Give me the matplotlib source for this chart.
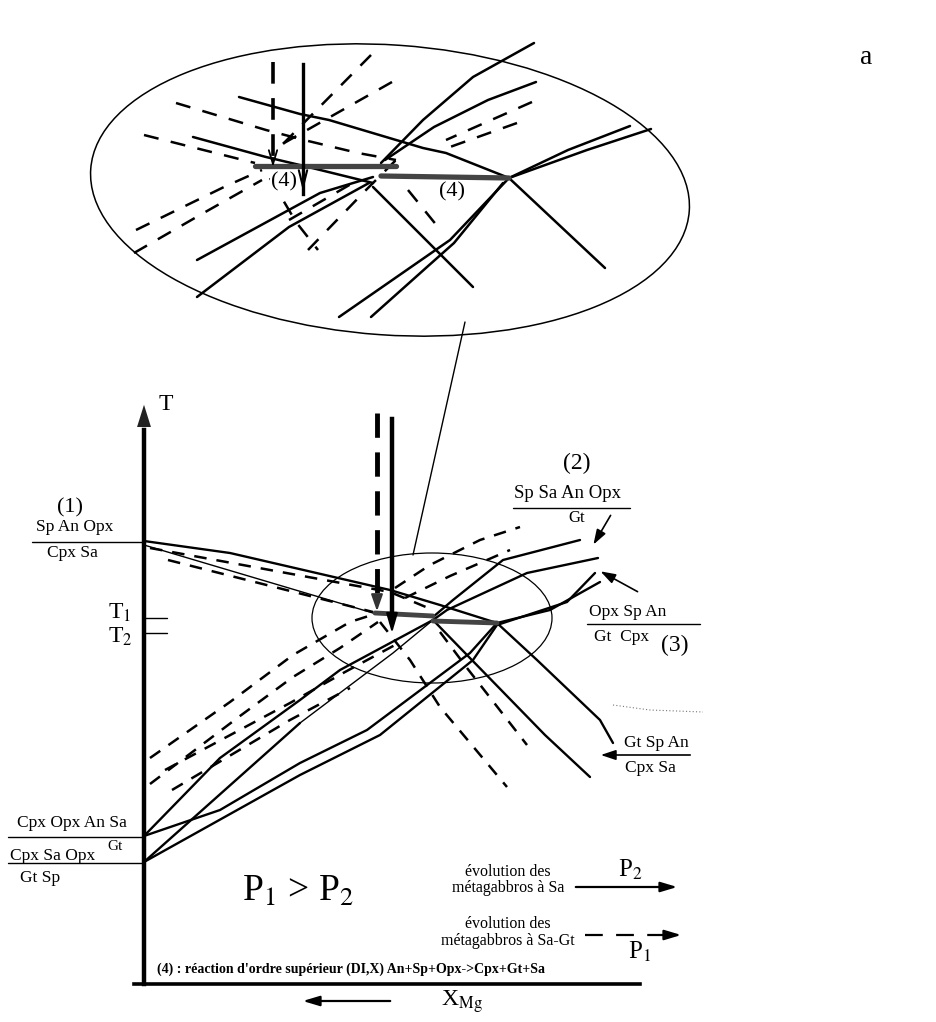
import matplotlib.pyplot as plt
from matplotlib.patches import Ellipse

plt.rcParams["font.family"] = ["Liberation Serif", "DejaVu Serif"]
plt.rcParams["mathtext.fontset"] = "stix"

# all geometry is in picture pixels (x to the right, y downwards)

# ---- main T - X_Mg diagram ----
axis_x = 144
axis_top = 402
axis_bottom = 984
base_end = 640

# fraction / reference lines on the T axis
ref_lines = [
    [(32, 542), (144, 542)],
    [(8, 837), (144, 837)],
    [(8, 863), (144, 863)],
    [(144, 618), (167, 618)],
    [(144, 633), (167, 633)],
    [(513, 508), (630, 508)],
    [(587, 624), (700, 624)],
]

main_solid = [
    [(144, 541), (230, 553), (390, 590), (440, 605), (497, 623)],
    [(144, 836), (220, 758), (300, 700), (340, 670), (433, 620)],
    [(144, 862), (300, 723)],
    [(144, 836), (220, 810), (300, 763), (367, 730), (470, 653), (497, 623),
     (550, 610), (600, 582)],
    [(144, 862), (300, 775), (380, 735), (473, 660), (497, 625), (567, 602),
     (595, 573)],
    [(433, 617), (453, 600), (503, 560), (580, 540)],
    [(433, 620), (447, 610), (527, 573), (598, 558)],
    [(433, 620), (467, 655), (545, 735), (590, 777)],
    [(497, 623), (537, 660), (600, 720), (613, 743)],
]
main_thin = [
    [(144, 545), (373, 613)],
    [(300, 723), (393, 653), (433, 620)],
]
main_dashed = [
    [(150, 548), (390, 592), (433, 610)],
    [(168, 560), (373, 612)],
    [(150, 758), (230, 702), (293, 655), (350, 622), (378, 613)],
    [(165, 770), (290, 703), (345, 672), (395, 645)],
    [(150, 784), (240, 716), (293, 677), (340, 648), (378, 622)],
    [(172, 790), (290, 720), (350, 688)],
    [(395, 588), (430, 565), (480, 540), (520, 527)],
    [(405, 598), (450, 576), (510, 550)],
    [(440, 632), (467, 668), (527, 745)],
    [(380, 622), (410, 660), (440, 707), (507, 787)],
]
main_thick = [
    [(375, 613), (433, 616)],
    [(433, 621), (497, 623)],
]
faint_curve = [(613, 705), (650, 710), (703, 712)]

# vertical evolution arrows
arrow_dashed_x, arrow_dashed_y = 377, (413, 614)
arrow_solid_x, arrow_solid_y = 392, (419, 636)

# ---- magnified inset ----
inset_center = (390, 190)
inset_size = (600, 290)
zoom_center = (432, 618)
zoom_size = (240, 130)
connector = [(465, 322), (413, 555)]

inset_solid = [
    [(239, 97), (300, 114), (329, 120), (423, 148), (446, 153), (509, 178)],
    [(193, 137), (266, 157), (304, 166), (373, 183)],
    [(509, 178), (568, 150), (630, 126)],
    [(509, 178), (587, 150), (651, 129)],
    [(509, 178), (605, 268)],
    [(509, 178), (450, 240), (339, 317)],
    [(503, 183), (454, 243), (427, 267), (371, 317)],
    [(381, 163), (423, 120), (473, 77), (534, 43)],
    [(385, 160), (434, 127), (488, 100), (536, 82)],
    [(373, 187), (473, 287)],
    [(373, 177), (320, 193), (197, 260)],
    [(369, 183), (289, 227), (197, 297)],
]
inset_dashed = [
    [(136, 230), (224, 187), (262, 170)],
    [(134, 253), (200, 215), (262, 180)],
    [(308, 250), (366, 190), (396, 160)],
    [(289, 220), (358, 180)],
    [(371, 55), (274, 153)],
    [(392, 82), (277, 147)],
    [(532, 102), (446, 140)],
    [(517, 123), (450, 147)],
    [(176, 103), (266, 130), (304, 140), (358, 153), (396, 160)],
    [(144, 135), (255, 163)],
    [(408, 190), (438, 227)],
    [(270, 178), (296, 222), (318, 250)],
]
inset_thick = [
    [(255, 166), (396, 166)],
    [(381, 176), (509, 178)],
]
inset_arrow_dashed_x, inset_arrow_dashed_y = 273, (62, 170)
inset_arrow_solid_x, inset_arrow_solid_y = 303, (64, 194)

# ---- labels ----
labels = [
    ("(1)", 70, 508, 16),
    ("Sp An Opx", 75, 527, 12.5),
    ("Cpx Sa", 72, 553, 12.5),
    ("(2)", 577, 463, 17),
    ("Sp Sa An Opx", 568, 494, 13.5),
    ("Gt", 577, 518, 12),
    ("Opx Sp An", 628, 612, 12.5),
    ("Gt  Cpx", 622, 637, 12.5),
    ("(3)", 675, 645, 17),
    ("Gt Sp An", 656, 743, 12.5),
    ("Cpx Sa", 650, 768, 12.5),
    ("Cpx Opx An Sa", 72, 823, 12.5),
    ("Gt", 115, 847, 11),
    ("Cpx Sa Opx", 53, 856, 12.5),
    ("Gt Sp", 40, 878, 12.5),
    ("évolution des", 508, 872, 11.5),
    ("métagabbros à Sa", 508, 888, 11.5),
    ("évolution des", 508, 924, 11.5),
    ("métagabbros à Sa-Gt", 508, 941, 11.5),
]
math_labels = [
    ("T", 166, 405, 17),
    ("T$_1$", 120, 613, 17),
    ("T$_2$", 120, 637, 17),
    ("P$_1$ > P$_2$", 298, 892, 27),
    ("P$_2$", 630, 870, 18),
    ("P$_1$", 640, 952, 18),
    ("X$_{\\rm Mg}$", 462, 1002, 17),
    ("a", 866, 57, 20),
]
note = "(4) : réaction d'ordre supérieur (DI,X) An+Sp+Opx->Cpx+Gt+Sa"
note_pos = (157, 969)
inset_labels = [("(4)", 284, 182), ("(4)", 452, 192)]

legend_solid = [(573, 887), (680, 887)]
legend_dashed = [(585, 935), (684, 935)]
xmg_arrow = [(393, 1001), (300, 1001)]
pointer_arrows = [
    [(612, 513), (592, 547)],
    [(640, 593), (598, 570)],
    [(693, 755), (598, 755)],
]


def draw(ax, pts, **kw):
    xs, ys = zip(*pts)
    ax.plot(xs, ys, solid_capstyle="round", **kw)


fig = plt.figure(figsize=(9.37, 10.22), dpi=100)
ax = fig.add_axes([0, 0, 1, 1])
ax.set_xlim(0, 937)
ax.set_ylim(1022, 0)
ax.axis("off")

# axes of the diagram
ax.plot([axis_x, axis_x], [axis_bottom, axis_top + 28], color="black", lw=3.2)
ax.annotate("", xy=(axis_x, axis_top), xytext=(axis_x, axis_top + 30),
            arrowprops=dict(arrowstyle="-|>,head_width=0.5,head_length=1.6",
                            color="#222222", lw=0))
ax.plot([axis_x - 10, base_end], [axis_bottom, axis_bottom], color="black", lw=2.6)

for pts in ref_lines:
    draw(ax, pts, color="black", lw=1.0)
for pts in main_solid:
    draw(ax, pts, color="black", lw=1.7)
for pts in main_thin:
    draw(ax, pts, color="black", lw=1.0)
for pts in main_dashed:
    draw(ax, pts, color="black", lw=1.8, ls=(0, (5, 4)))
for pts in main_thick:
    draw(ax, pts, color="#444444", lw=3.5)
draw(ax, faint_curve, color="#777777", lw=0.8, ls=(0, (1, 2)))

ax.plot([arrow_dashed_x] * 2, [arrow_dashed_y[0], arrow_dashed_y[1] - 14],
        color="black", lw=3.5, ls=(0, (5, 3)))
ax.annotate("", xy=(arrow_dashed_x, arrow_dashed_y[1]),
            xytext=(arrow_dashed_x, arrow_dashed_y[1] - 16),
            arrowprops=dict(arrowstyle="-|>,head_width=0.35,head_length=1.0",
                            color="#333333", lw=1.5))
ax.plot([arrow_solid_x] * 2, [arrow_solid_y[0], arrow_solid_y[1] - 14],
        color="black", lw=3.2)
ax.annotate("", xy=(arrow_solid_x, arrow_solid_y[1]),
            xytext=(arrow_solid_x, arrow_solid_y[1] - 18),
            arrowprops=dict(arrowstyle="-|>,head_width=0.35,head_length=1.2",
                            color="black", lw=1.5))

# magnifier
ax.add_patch(Ellipse(zoom_center, *zoom_size, fill=False, lw=0.9, color="black"))
ax.add_patch(Ellipse(inset_center, *inset_size, angle=4, fill=False, lw=1.1,
                     color="black"))
draw(ax, connector, color="black", lw=1.0)

for pts in inset_solid:
    draw(ax, pts, color="black", lw=1.8)
for pts in inset_dashed:
    draw(ax, pts, color="black", lw=1.8, ls=(0, (6, 5)))
for pts in inset_thick:
    draw(ax, pts, color="#444444", lw=3.8)
ax.plot([inset_arrow_dashed_x] * 2, inset_arrow_dashed_y, color="black",
        lw=2.6, ls=(0, (6, 4)))
ax.plot([inset_arrow_solid_x] * 2, [inset_arrow_solid_y[0], inset_arrow_solid_y[1]],
        color="black", lw=2.4)
ax.annotate("", xy=(inset_arrow_solid_x, inset_arrow_solid_y[1]),
            xytext=(inset_arrow_solid_x, inset_arrow_solid_y[1] - 25),
            arrowprops=dict(arrowstyle="->,head_width=0.3,head_length=1.2",
                            color="black", lw=1.5))
ax.annotate("", xy=(inset_arrow_dashed_x, inset_arrow_dashed_y[1]),
            xytext=(inset_arrow_dashed_x, inset_arrow_dashed_y[1] - 15),
            arrowprops=dict(arrowstyle="->,head_width=0.3,head_length=1.0",
                            color="black", lw=1.3))
for txt, x, y in inset_labels:
    ax.text(x, y, txt, fontsize=16, ha="center", va="center",
            bbox=dict(fc="white", ec="none", pad=0.5))

# pointers and legend arrows
for start, end in pointer_arrows:
    ax.annotate("", xy=end, xytext=start,
                arrowprops=dict(arrowstyle="-|>,head_width=0.3,head_length=0.9",
                                color="black", lw=1.2))
ax.annotate("", xy=legend_solid[1], xytext=legend_solid[0],
            arrowprops=dict(arrowstyle="-|>,head_width=0.3,head_length=1.0",
                            color="black", lw=1.6))
draw(ax, [legend_dashed[0], (legend_dashed[1][0] - 12, legend_dashed[1][1])],
     color="black", lw=1.6, ls=(0, (8, 6)))
ax.annotate("", xy=legend_dashed[1], xytext=(legend_dashed[1][0] - 14, legend_dashed[1][1]),
            arrowprops=dict(arrowstyle="-|>,head_width=0.3,head_length=1.0",
                            color="black", lw=1.6))
ax.annotate("", xy=xmg_arrow[1], xytext=xmg_arrow[0],
            arrowprops=dict(arrowstyle="-|>,head_width=0.3,head_length=1.0",
                            color="black", lw=1.6))

for txt, x, y, fs in labels:
    ax.text(x, y, txt, fontsize=fs, ha="center", va="center")
for txt, x, y, fs in math_labels:
    ax.text(x, y, txt, fontsize=fs, ha="center", va="center")
ax.text(*note_pos, note, fontsize=10, fontweight="bold", ha="left", va="center")

fig.savefig("out.png", dpi=100)
